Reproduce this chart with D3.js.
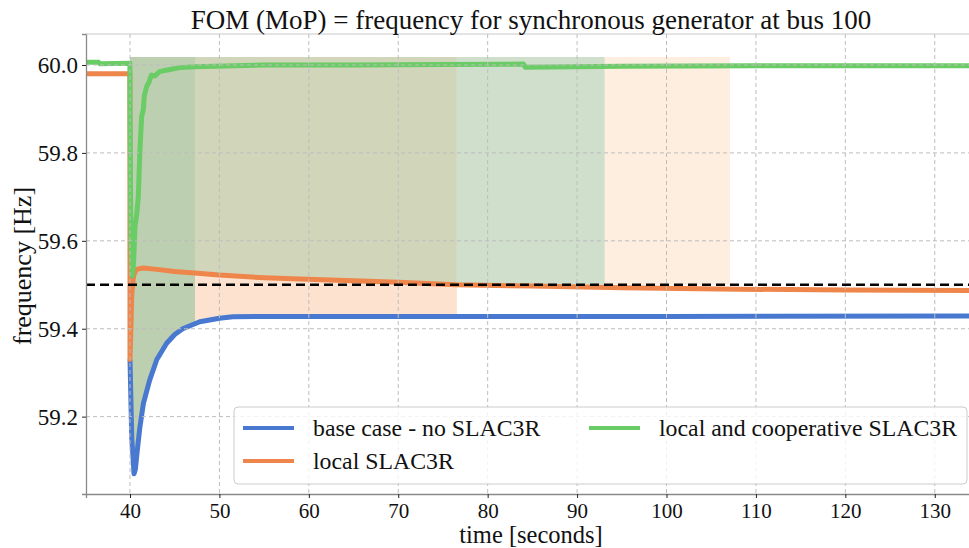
<!DOCTYPE html>
<html>
<head>
<meta charset="utf-8">
<script src="https://cdn.jsdelivr.net/npm/d3@7"></script>
<style>
  body { margin: 0; background: #fff; }
  text { font-family: "Liberation Serif", "Times New Roman", serif; fill: #111; }
</style>
</head>
<body>
<div id="chart"></div>
<script>
// ---- data ----
var seriesNames = ["base case - no SLAC3R", "local SLAC3R", "local and cooperative SLAC3R"];

// [time (s), frequency (Hz)]
var baseCase = [[40.0,59.33],[40.2,59.15],[40.45,59.07],[40.6,59.08],
  [40.8,59.12],[41.1,59.175],[41.5,59.23],[42.2,59.283],[43.0,59.33],[44.1,59.367],[45.0,59.387],
  [45.9,59.40],[47.8,59.416],[50.0,59.424],[51.5,59.427],[55.0,59.428],[70.0,59.428],[100.0,59.428],[134.5,59.429]];

var localOnly = [[35.08,59.98],[39.99,59.98],[40.0,59.33],[40.1,59.40],[40.2,59.48],[40.4,59.52],
  [40.7,59.535],[41.5,59.538],[43.0,59.535],[45.0,59.53],[47.2,59.527],[50.0,59.522],[55.0,59.516],
  [59.0,59.513],[65.0,59.509],[70.0,59.506],[76.5,59.50],[85.0,59.497],[95.0,59.493],[108.0,59.49],
  [120.0,59.488],[134.5,59.487]];

var cooperative = [[35.08,60.006],[36.5,60.006],[36.6,60.003],[39.99,60.004],[40.0,59.9],[40.1,59.6],
  [40.25,59.52],[40.4,59.55],[40.56,59.632],[40.75,59.66],[40.93,59.70],[41.1,59.80],[41.3,59.882],
  [41.5,59.90],[41.6,59.93],[41.86,59.951],[42.1,59.96],[42.4,59.977],[42.8,59.975],[43.3,59.985],
  [44.0,59.988],[45.6,59.994],[47.25,59.996],[55.0,60.0],[65.0,60.0],[75.0,60.001],[84.0,60.002],
  [84.2,59.995],[95.0,59.997],[110.0,59.998],[134.5,59.998]];

var threshold = 59.5;
var shadeTop = 60.018;

// shaded spans: [t start, t end, lower bound, upper bound] ("base", "local" or a number)
var shadeSpans = [
  [40.0, 47.27, "base", shadeTop],
  [47.27, 76.56, "local", shadeTop],
  [47.27, 76.56, "base", "local"],
  [76.56, 93.1, threshold, shadeTop],
  [93.1, 107.1, threshold, shadeTop]
];

var xTicks = [40, 50, 60, 70, 80, 90, 100, 110, 120, 130];
var yTicks = [59.2, 59.4, 59.6, 59.8, 60.0];

// ---- styles ----
var lineColors = ["#4878d0", "#ee854a", "#6acc64"];
var shadeColors = ["#bccfb0", "#d1d6bb", "#fde3cf", "#cfdfcb", "#fdeee0"];

var width = 969, height = 548;
var pLeft = 86, pTop = 34, pRight = 975, pBottom = 494;

var svg = d3.select("#chart").append("svg")
  .attr("width", width).attr("height", height);

var x = d3.scaleLinear().domain([35.08, 134.5]).range([pLeft, pRight]);
var y = d3.scaleLinear().domain([59.024, 60.0705]).range([pBottom, pTop]);

svg.append("clipPath").attr("id", "plot")
  .append("rect").attr("x", pLeft).attr("y", pTop).attr("width", pRight - pLeft).attr("height", pBottom - pTop);

var seriesByKey = { base: baseCase, local: localOnly };

// value of a series (or constant) at time t
function valueAt(key, t) {
  if (typeof key === "number") return key;
  var s = seriesByKey[key];
  if (t <= s[0][0]) return s[0][1];
  for (var i = 1; i < s.length; i++) {
    if (s[i][0] >= t) {
      var a = s[i - 1], b = s[i];
      var f = (t - a[0]) / (b[0] - a[0]);
      return a[1] + f * (b[1] - a[1]);
    }
  }
  return s[s.length - 1][1];
}

function boundaryTimes(key, t0, t1) {
  var ts = [t0];
  if (typeof key !== "number") {
    seriesByKey[key].forEach(function(p) { if (p[0] > t0 && p[0] < t1) ts.push(p[0]); });
  }
  ts.push(t1);
  return ts;
}

var plot = svg.append("g").attr("clip-path", "url(#plot)");

// shaded regions
shadeSpans.forEach(function(s, i) {
  var lowT = boundaryTimes(s[2], s[0], s[1]);
  var upT = boundaryTimes(s[3], s[0], s[1]).reverse();
  var pts = lowT.map(function(t) { return [x(t), y(valueAt(s[2], t))]; })
    .concat(upT.map(function(t) { return [x(t), y(valueAt(s[3], t))]; }));
  plot.append("path")
    .attr("d", "M" + pts.join("L") + "Z")
    .attr("fill", shadeColors[i]);
});

// grid
var grid = svg.append("g");
grid.selectAll(".gx").data(xTicks).join("line")
  .attr("x1", d => x(d)).attr("x2", d => x(d)).attr("y1", pTop).attr("y2", pBottom)
  .attr("stroke", "#bdbdbd").attr("stroke-width", 1).attr("stroke-dasharray", "4,3");
grid.selectAll(".gy").data(yTicks).join("line")
  .attr("x1", pLeft).attr("x2", pRight).attr("y1", d => y(d)).attr("y2", d => y(d))
  .attr("stroke", "#bdbdbd").attr("stroke-width", 1).attr("stroke-dasharray", "4,3");

// lines
var line = d3.line().x(d => x(d[0])).y(d => y(d[1]));
[baseCase, localOnly, cooperative].forEach(function(s, i) {
  plot.append("path").datum(s)
    .attr("d", line)
    .attr("fill", "none")
    .attr("stroke", lineColors[i])
    .attr("stroke-width", 5)
    .attr("stroke-linejoin", "round");
});

// threshold line
plot.append("line")
  .attr("x1", pLeft).attr("x2", pRight)
  .attr("y1", y(threshold)).attr("y2", y(threshold))
  .attr("stroke", "#000").attr("stroke-width", 2.5).attr("stroke-dasharray", "9,5");

// axes
var xAxis = svg.append("g").attr("transform", `translate(0,${pBottom})`)
  .call(d3.axisBottom(x).tickValues(xTicks).tickSize(4).tickPadding(5).tickFormat(d3.format("d")));
var yAxis = svg.append("g").attr("transform", `translate(${pLeft},0)`)
  .call(d3.axisLeft(y).tickValues(yTicks).tickSize(4).tickPadding(4).tickFormat(d3.format(".1f")));
[xAxis, yAxis].forEach(function(a) {
  a.select(".domain").attr("stroke", "#8a8a8a").attr("stroke-width", 1.3);
  a.selectAll(".tick line").attr("stroke", "#222");
  a.selectAll(".tick text").attr("fill", "#111");
});
xAxis.selectAll(".tick text").attr("font-size", 21);
yAxis.selectAll(".tick text").attr("font-size", 23);
svg.append("line").attr("x1", pLeft).attr("x2", pRight).attr("y1", pTop).attr("y2", pTop)
  .attr("stroke", "#c8c8c8").attr("stroke-width", 1);

// labels
svg.append("text").attr("x", 531).attr("y", 29).attr("text-anchor", "middle")
  .attr("font-size", 27).text("FOM (MoP) = frequency for synchronous generator at bus 100");
svg.append("text").attr("x", 531).attr("y", 542.5).attr("text-anchor", "middle")
  .attr("font-size", 24.5).text("time [seconds]");
svg.append("text").attr("transform", "translate(31,266) rotate(-90)").attr("text-anchor", "middle")
  .attr("font-size", 26).text("frequency [Hz]");

// legend
var legend = svg.append("g");
legend.append("rect").attr("x", 234).attr("y", 407).attr("width", 733).attr("height", 77).attr("rx", 4)
  .attr("fill", "#fff").attr("fill-opacity", 0.8).attr("stroke", "#cccccc");
var legendPos = [[243, 428], [243, 461], [589, 428]];
seriesNames.forEach(function(name, i) {
  var p = legendPos[i];
  legend.append("line").attr("x1", p[0]).attr("x2", p[0] + 51).attr("y1", p[1]).attr("y2", p[1])
    .attr("stroke", lineColors[i]).attr("stroke-width", 4);
  legend.append("text").attr("x", p[0] + 70).attr("y", p[1] + 8).attr("font-size", 23.8).text(name);
});
</script>
</body>
</html>
